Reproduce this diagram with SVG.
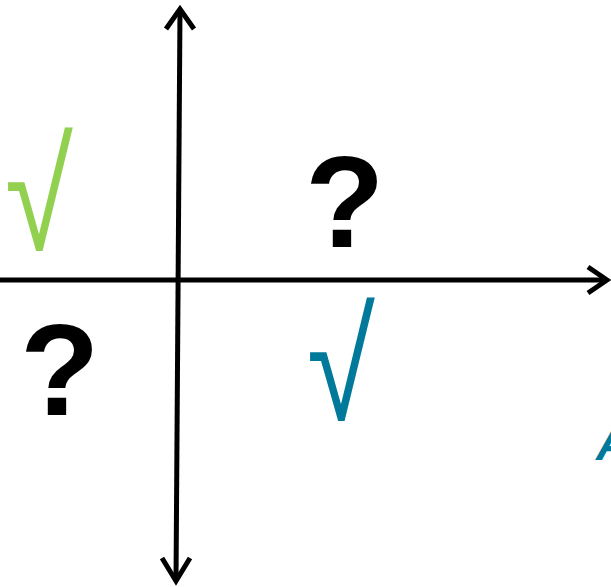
<svg xmlns="http://www.w3.org/2000/svg" width="611" height="587" viewBox="0 0 611 587">
<style>
.ax{fill:none;stroke:#000;stroke-width:5;stroke-linecap:butt;stroke-linejoin:miter}
.q{font-family:"Liberation Sans",Arial,sans-serif;font-weight:bold;font-size:130px;fill:#000}
.chk{font-family:"Liberation Sans",Arial,sans-serif;font-size:120px}
</style>
<rect width="611" height="587" fill="#fff"/>
<g id="connectors">
<path class="ax" d="M180,9 L176,581"/>
<path class="ax" d="M166,29 L180,9 L194,29"/>
<path class="ax" d="M162,558 L176,581 L190,558"/>
<path class="ax" d="M0,280 L606,280"/>
<path class="ax" d="M588,267 L607,280 L588,293"/>
</g>
<g id="check-green"><text class="chk" transform="translate(5,250) scale(1.03,1.29)" fill="#92d050">√</text></g>
<g id="check-teal"><text class="chk" transform="translate(307,420) scale(1.03,1.29)" fill="#00799a">√</text></g>
<g id="q1"><text class="q" x="305" y="247">?</text></g>
<g id="q2"><text class="q" x="20" y="415">?</text></g>
<g id="labelA"><text x="596" y="460" font-family="'Liberation Sans',Arial,sans-serif" font-weight="bold" font-style="italic" font-size="48" fill="#00799a">A</text></g>
</svg>
